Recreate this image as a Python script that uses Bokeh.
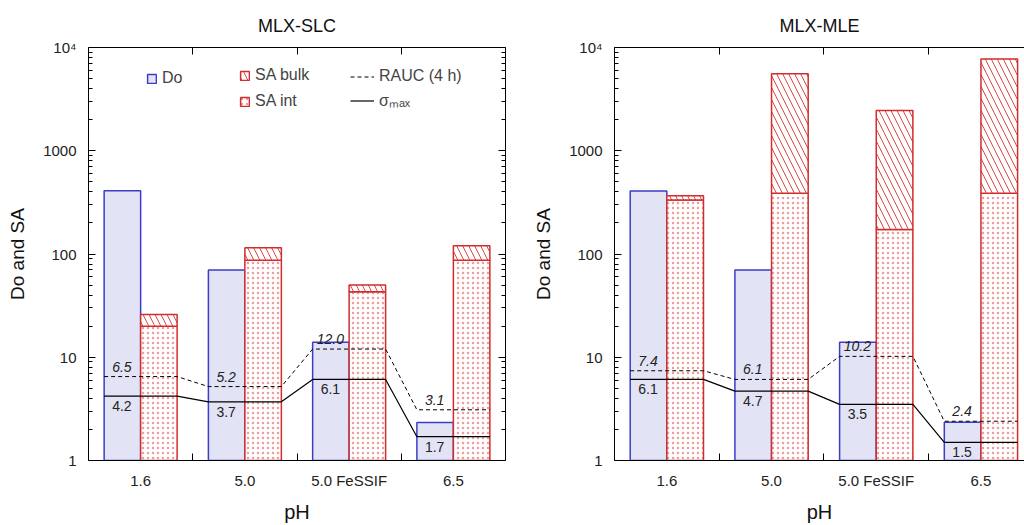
import numpy as np
from bokeh.plotting import figure
from bokeh.layouts import row
from bokeh.models import (LogAxis, LinearAxis, FixedTicker, Range1d, Legend,
                          LegendItem, ColumnDataSource)
from bokeh.core.properties import value
from bokeh.embed import file_html
from bokeh.resources import INLINE

# ---------------- data ----------------
categories = ["1.6", "5.0", "5.0 FeSSIF", "6.5"]

slc_do = [410, 70, 14.0, 2.33]
slc_sa_int = [20, 87, 43, 87]
slc_sa_bulk = [26, 115, 50, 120]
slc_rauc = [6.5, 5.2, 12.0, 3.1]
slc_sigma = [4.2, 3.7, 6.1, 1.7]

mle_do = [407, 70, 14.0, 2.35]
mle_sa_int = [334, 387, 173, 387]
mle_sa_bulk = [367, 5570, 2460, 7740]
mle_rauc = [7.4, 6.1, 10.2, 2.4]
mle_sigma = [6.1, 4.7, 3.5, 1.5]

y_ticks = [1, 10, 100, 1000, 10000]
y_tick_labels = ["1", "10", "100", "1000", "10\u2074"]

FONT = "Liberation Sans"
DO_FILL = "#e3e3f6"
DO_LINE = "#3c3cc8"
SA_LINE = "#d22c2c"
SA_HATCH = "#e04848"


def style_axis(ax):
    ax.axis_line_color = "black"
    ax.axis_line_width = 1
    ax.major_tick_line_color = "black"
    ax.minor_tick_line_color = "black"
    ax.major_label_text_font = FONT
    ax.axis_label_text_font = FONT
    ax.axis_label_text_font_style = "normal"
    ax.major_label_text_color = "#222222"
    ax.axis_label_text_color = "#111111"


def blank_labels(ax, ticks):
    ax.major_label_overrides = {t: "" for t in ticks}
    ax.major_label_text_font_size = "1px"
    ax.major_label_text_alpha = 0
    ax.major_label_standoff = 0


def make_panel(title, do, sa_int, sa_bulk, rauc, sigma, width, x_end,
               b_left, b_right, b_top, b_bottom, with_right_axis, with_legend):
    idx = np.arange(len(categories))
    p = figure(width=width, height=525, x_range=Range1d(0, x_end),
               y_range=Range1d(1, 1e4), y_axis_type="log",
               x_axis_location=None, y_axis_location=None,
               output_backend="svg", toolbar_location=None,
               min_border_left=b_left, min_border_right=b_right,
               min_border_top=b_top, min_border_bottom=b_bottom,
               background_fill_color="white", border_fill_color="white")
    p.outline_line_color = None
    p.xgrid.visible = False
    p.ygrid.visible = False

    minor = [m * 10 ** k for k in range(4) for m in range(2, 10)]

    # left y axis
    yl = LogAxis(ticker=FixedTicker(ticks=y_ticks, minor_ticks=minor))
    yl.major_label_overrides = {t: s for t, s in zip(y_ticks, y_tick_labels)}
    style_axis(yl)
    yl.major_tick_in = 7
    yl.major_tick_out = 0
    yl.minor_tick_in = 4
    yl.minor_tick_out = 0
    yl.major_label_text_font_size = "15px"
    yl.major_label_standoff = 12
    yl.axis_label = "Do and SA"
    yl.axis_label_text_font_size = "19px"
    yl.axis_label_standoff = 12
    p.add_layout(yl, "left")

    if with_right_axis:
        yr = LogAxis(ticker=FixedTicker(ticks=y_ticks, minor_ticks=minor))
        style_axis(yr)
        yr.major_tick_in = 7
        yr.major_tick_out = 0
        yr.minor_tick_in = 4
        yr.minor_tick_out = 0
        blank_labels(yr, y_ticks)
        p.add_layout(yr, "right")

    # bottom x axis
    centers = [float(c) for c in idx + 0.5]
    bounds = [float(b) for b in idx[1:]]
    xb = LinearAxis(ticker=FixedTicker(ticks=centers, minor_ticks=bounds))
    xb.major_label_overrides = {c: s for c, s in zip(centers, categories)}
    style_axis(xb)
    xb.major_tick_in = 0
    xb.major_tick_out = 0
    xb.minor_tick_in = 7
    xb.minor_tick_out = 0
    xb.major_label_text_font_size = "15px"
    xb.major_label_standoff = 11
    xb.axis_label = "pH"
    xb.axis_label_text_font_size = "20px"
    xb.axis_label_standoff = 9
    p.add_layout(xb, "below")

    # top axis carrying the title
    xt = LinearAxis(ticker=FixedTicker(ticks=bounds))
    style_axis(xt)
    xt.major_tick_in = 7
    xt.major_tick_out = 0
    blank_labels(xt, bounds)
    xt.axis_label = title
    xt.axis_label_text_font_size = "18px"
    xt.axis_label_standoff = 12
    p.add_layout(xt, "above")

    src = ColumnDataSource(dict(
        left_do=idx + 0.15, mid=idx + 0.5, right_sa=idx + 0.85,
        do=do, sa_int=sa_int, sa_bulk=sa_bulk, base=[1] * len(idx)))

    r_do = p.quad(left="left_do", right="mid", bottom="base", top="do", source=src,
                  fill_color=DO_FILL, line_color=DO_LINE, line_width=1.5)
    r_int = p.quad(left="mid", right="right_sa", bottom="base", top="sa_int", source=src,
                   fill_color="white", line_color=SA_LINE, line_width=1.5,
                   hatch_pattern="dot", hatch_color=SA_HATCH, hatch_scale=5,
                   hatch_weight=0.8, hatch_alpha=0.55)
    r_bulk = p.quad(left="mid", right="right_sa", bottom="sa_int", top="sa_bulk", source=src,
                    fill_color="white", line_color=SA_LINE, line_width=1.5,
                    hatch_pattern="left_diagonal_line", hatch_color=SA_HATCH,
                    hatch_scale=12, hatch_weight=1)

    lx = np.column_stack([idx + 0.15, idx + 0.85]).ravel()
    r_rauc = p.line(lx, np.repeat(rauc, 2), line_color="black", line_width=1,
                    line_dash="4 3")
    r_sig = p.line(lx, np.repeat(sigma, 2), line_color="black", line_width=1.2)

    p.text(x=idx + 0.32, y=rauc, text=[f"{v:.1f}" for v in rauc],
           text_font=value(FONT), text_font_style="italic", text_font_size="14px",
           text_align="center", text_baseline="bottom", y_offset=-5,
           text_color="#222222")
    p.text(x=idx + 0.32, y=sigma, text=[f"{v:.1f}" for v in sigma],
           text_font=value(FONT), text_font_size="14px",
           text_align="center", text_baseline="top", y_offset=5,
           text_color="#222222")

    if with_legend:
        common = dict(border_line_color=None, background_fill_alpha=0,
                      padding=2, label_text_font=FONT,
                      label_text_font_size="16px", label_standoff=5,
                      label_height=16)
        l1 = Legend(items=[LegendItem(label="Do", renderers=[r_do])],
                    location=(58, 373), glyph_width=11, glyph_height=11,
                    spacing=10, **common)
        l2 = Legend(items=[LegendItem(label="SA bulk", renderers=[r_bulk]),
                           LegendItem(label="SA int", renderers=[r_int])],
                    location=(151, 350), glyph_width=11, glyph_height=11,
                    spacing=8, **common)
        l3 = Legend(items=[LegendItem(label="RAUC (4 h)", renderers=[r_rauc]),
                           LegendItem(label="\u03c3\u2098\u2090\u2093", renderers=[r_sig])],
                    location=(262, 349), glyph_width=24, glyph_height=11,
                    spacing=4, **common)
        for lg in (l1, l2, l3):
            p.add_layout(lg, "center")
    return p


p1 = make_panel("MLX-SLC", slc_do, slc_sa_int, slc_sa_bulk, slc_rauc, slc_sigma,
                width=520, x_end=4, b_left=88, b_right=15, b_top=47, b_bottom=63,
                with_right_axis=True, with_legend=True)
p2 = make_panel("MLX-MLE", mle_do, mle_sa_int, mle_sa_bulk, mle_rauc, mle_sigma,
                width=504, x_end=3.916, b_left=94, b_right=0, b_top=44, b_bottom=60,
                with_right_axis=False, with_legend=False)

layout = row(p1, p2, spacing=0)
open("out.html", "w").write(file_html(layout, INLINE))
